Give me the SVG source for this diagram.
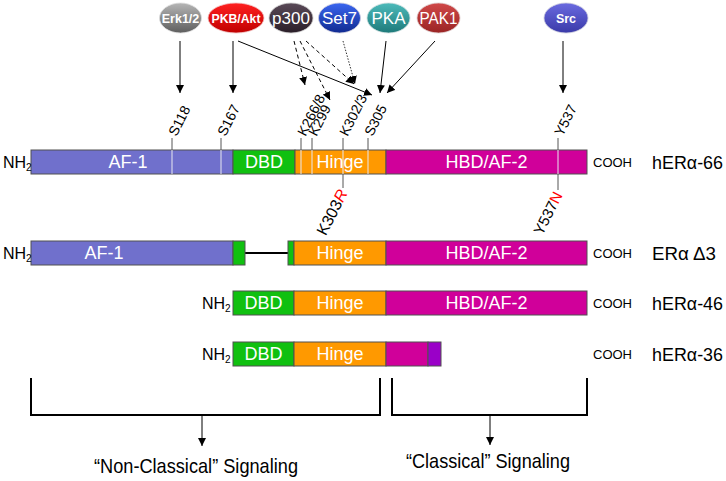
<svg xmlns="http://www.w3.org/2000/svg" width="726" height="481" viewBox="0 0 726 481">
<defs>
<marker id="ah" viewBox="0 0 10 10" refX="10" refY="5" markerWidth="8" markerHeight="8" markerUnits="userSpaceOnUse" orient="auto"><path d="M0,0 L10,5 L0,10 z" fill="#000"/></marker>
<linearGradient id="gErk" x1="0" y1="0" x2="0" y2="1"><stop offset="0" stop-color="#b5b5b5"/><stop offset="1" stop-color="#5e5e5e"/></linearGradient>
<linearGradient id="gAkt" x1="0" y1="0" x2="0" y2="1"><stop offset="0" stop-color="#ff2020"/><stop offset="1" stop-color="#c00000"/></linearGradient>
<linearGradient id="gP300" x1="0" y1="0" x2="0" y2="1"><stop offset="0" stop-color="#5a4a58"/><stop offset="1" stop-color="#2a1e28"/></linearGradient>
<linearGradient id="gSet7" x1="0" y1="0" x2="0" y2="1"><stop offset="0" stop-color="#3a66f0"/><stop offset="1" stop-color="#102a90"/></linearGradient>
<linearGradient id="gPKA" x1="0" y1="0" x2="0" y2="1"><stop offset="0" stop-color="#4cbaba"/><stop offset="1" stop-color="#1e7a7a"/></linearGradient>
<linearGradient id="gPAK" x1="0" y1="0" x2="0" y2="1"><stop offset="0" stop-color="#d04848"/><stop offset="1" stop-color="#9a2424"/></linearGradient>
<linearGradient id="gSrc" x1="0" y1="0" x2="0" y2="1"><stop offset="0" stop-color="#6a6ae0"/><stop offset="1" stop-color="#3a3aa8"/></linearGradient>
</defs>
<style>
text{font-family:"Liberation Sans",Arial,sans-serif;}
.kin{fill:#fff;text-anchor:middle;}
.kb{font-size:12.5px;font-weight:bold;}
.kr{font-size:17px;}
.bar{stroke:#505050;stroke-width:1;}
.af1{fill:#7070cc;}
.dbd{fill:#10c010;}
.hinge{fill:#ff9900;}
.hbd{fill:#d0009a;}
.pur{fill:#9a00c8;}
.bl{fill:#fff;font-size:18px;text-anchor:middle;}
.tick{stroke:#555;stroke-width:1;}
.wt{stroke:#e8e8f0;stroke-width:1;}
.site{font-size:14px;fill:#000;}
.nh{font-size:16px;}
.sub{font-size:10px;}
.cooh{font-size:13px;}
.iso{font-size:19px;}
.arr{stroke:#000;stroke-width:1;fill:none;marker-end:url(#ah);}
.dash{stroke-dasharray:4,3;}
.dot{stroke-dasharray:1.5,1.5;stroke:#333;}
.brk{stroke:#000;stroke-width:2;fill:none;}
.sig{font-size:21px;text-anchor:middle;}
</style>

<g id="kinases">
<g id="erk"><ellipse cx="180.5" cy="18" rx="21" ry="15" fill="url(#gErk)" stroke="#ddd" stroke-width="0.8"/><text class="kin kb" x="180.5" y="22.5">Erk1/2</text></g>
<g id="akt"><ellipse cx="236" cy="18" rx="28" ry="15" fill="url(#gAkt)" stroke="#f0c0c0" stroke-width="0.8"/><text class="kin kb" x="236" y="22.5" textLength="49" lengthAdjust="spacingAndGlyphs">PKB/Akt</text></g>
<g id="p300"><ellipse cx="291" cy="18" rx="22" ry="15" fill="url(#gP300)" stroke="#ccc" stroke-width="0.8"/><text class="kin kr" x="291" y="24">p300</text></g>
<g id="set7"><ellipse cx="339.5" cy="18" rx="21" ry="15" fill="url(#gSet7)" stroke="#ccd" stroke-width="0.8"/><text class="kin kr" x="339.5" y="24">Set7</text></g>
<g id="pka"><ellipse cx="388.5" cy="18" rx="21.5" ry="15" fill="url(#gPKA)" stroke="#cdd" stroke-width="0.8"/><text class="kin kr" x="388.5" y="24">PKA</text></g>
<g id="pak1"><ellipse cx="438.5" cy="18" rx="21.5" ry="15" fill="url(#gPAK)" stroke="#dcc" stroke-width="0.8"/><text class="kin kr" x="438.5" y="24" textLength="38" lengthAdjust="spacingAndGlyphs">PAK1</text></g>
<g id="src"><ellipse cx="566" cy="18" rx="22" ry="15" fill="url(#gSrc)" stroke="#ccd" stroke-width="0.8"/><text class="kin kb" x="566" y="22.5">Src</text></g>
</g>

<g id="connectors">
<line class="arr" x1="180" y1="41" x2="180" y2="93"/>
<line class="arr" x1="233" y1="41" x2="233" y2="93"/>
<line class="arr" x1="238" y1="41" x2="372" y2="95"/>
<line class="arr dash" x1="294" y1="41" x2="305" y2="85"/>
<line class="arr dash" x1="300" y1="41" x2="330" y2="100"/>
<line class="arr dash" x1="306" y1="41" x2="354" y2="84"/>
<line class="arr dot" x1="343" y1="41" x2="355" y2="84"/>
<line class="arr" x1="386" y1="41" x2="380" y2="93"/>
<line class="arr" x1="435" y1="41" x2="387" y2="93"/>
<line class="arr" x1="563" y1="41" x2="563" y2="93"/>
<path class="brk" d="M31,378 V415 H380 V378"/>
<path class="brk" d="M392,378 V415 H587 V378"/>
<line class="arr" x1="202" y1="415" x2="202" y2="446"/>
<line class="arr" x1="490" y1="415" x2="490" y2="445"/>
</g>

<g id="hERa66">
<rect class="bar af1" x="31" y="150" width="202" height="24"/>
<rect class="bar dbd" x="233" y="150" width="62" height="24"/>
<rect class="bar hinge" x="295" y="150" width="91" height="24"/>
<rect class="bar hbd" x="386" y="150" width="201" height="24"/>
<line class="wt" x1="172" y1="150" x2="172" y2="174"/>
<line class="wt" x1="221" y1="150" x2="221" y2="174"/>
<line class="wt" x1="301" y1="150" x2="301" y2="174"/>
<line class="wt" x1="312" y1="150" x2="312" y2="174"/>
<line class="wt" x1="343" y1="150" x2="343" y2="174"/>
<line class="wt" x1="368" y1="150" x2="368" y2="174"/>
<line class="wt" x1="558" y1="150" x2="558" y2="174"/>
<line class="tick" x1="172" y1="138" x2="172" y2="150"/>
<line class="tick" x1="221" y1="138" x2="221" y2="150"/>
<line class="tick" x1="301" y1="138" x2="301" y2="150"/>
<line class="tick" x1="312" y1="138" x2="312" y2="150"/>
<line class="tick" x1="343" y1="138" x2="343" y2="150"/>
<line class="tick" x1="368" y1="138" x2="368" y2="150"/>
<line class="tick" x1="558" y1="138" x2="558" y2="150"/>
<line class="tick" x1="343" y1="174" x2="343" y2="188"/>
<line class="tick" x1="558" y1="174" x2="558" y2="190"/>
<text class="site" transform="translate(176.5,137) rotate(-63)">S118</text>
<text class="site" transform="translate(225.5,137) rotate(-63)">S167</text>
<text class="site" transform="translate(305.5,137) rotate(-63)">K266/8</text>
<text class="site" transform="translate(316.5,137) rotate(-63)">K299</text>
<text class="site" transform="translate(347.5,137) rotate(-63)">K302/3</text>
<text class="site" transform="translate(372.5,137) rotate(-63)">S305</text>
<text class="site" transform="translate(562.5,137) rotate(-63)">Y537</text>
<text class="site" style="font-size:16px;text-anchor:end" transform="translate(348,193) rotate(-63)">K303<tspan fill="#ff0000" font-style="italic">R</tspan></text>
<text class="site" style="font-size:15px;text-anchor:end" transform="translate(563,195) rotate(-63)">Y537<tspan fill="#ff0000">N</tspan></text>
<text class="bl" x="128" y="168">AF-1</text>
<text class="bl" x="264" y="168">DBD</text>
<text class="bl" x="340" y="168">Hinge</text>
<text class="bl" x="486.5" y="168">HBD/AF-2</text>
<text class="nh" x="3" y="168">NH<tspan class="sub" dy="3">2</tspan></text>
<text class="cooh" x="593" y="167">COOH</text>
<text class="iso" x="652" y="169" textLength="71" lengthAdjust="spacingAndGlyphs">hERα-66</text>
</g>

<g id="ERaD3">
<line x1="245" y1="253" x2="288" y2="253" stroke="#000" stroke-width="2"/>
<rect class="bar af1" x="31" y="241" width="202" height="24"/>
<rect class="bar dbd" x="233" y="241" width="12" height="24"/>
<rect class="bar dbd" x="288" y="241" width="6" height="24"/>
<rect class="bar hinge" x="294" y="241" width="92" height="24"/>
<rect class="bar hbd" x="386" y="241" width="201" height="24"/>
<text class="bl" x="104" y="259">AF-1</text>
<text class="bl" x="340" y="259">Hinge</text>
<text class="bl" x="486.5" y="259">HBD/AF-2</text>
<text class="nh" x="3" y="259">NH<tspan class="sub" dy="3">2</tspan></text>
<text class="cooh" x="593" y="258">COOH</text>
<text class="iso" x="652" y="260" textLength="64" lengthAdjust="spacingAndGlyphs">ERα Δ3</text>
</g>

<g id="hERa46">
<rect class="bar dbd" x="233" y="291" width="61" height="24"/>
<rect class="bar hinge" x="294" y="291" width="92" height="24"/>
<rect class="bar hbd" x="386" y="291" width="201" height="24"/>
<text class="bl" x="263.5" y="309">DBD</text>
<text class="bl" x="340" y="309">Hinge</text>
<text class="bl" x="486.5" y="309">HBD/AF-2</text>
<text class="nh" x="202" y="309">NH<tspan class="sub" dy="3">2</tspan></text>
<text class="cooh" x="593" y="308">COOH</text>
<text class="iso" x="652" y="310" textLength="71" lengthAdjust="spacingAndGlyphs">hERα-46</text>
</g>

<g id="hERa36">
<rect class="bar dbd" x="233" y="342" width="61" height="24"/>
<rect class="bar hinge" x="294" y="342" width="92" height="24"/>
<rect class="bar hbd" x="386" y="342" width="42" height="24"/>
<rect class="bar pur" x="428" y="342" width="13" height="24"/>
<text class="bl" x="263.5" y="360">DBD</text>
<text class="bl" x="340" y="360">Hinge</text>
<text class="nh" x="202" y="360">NH<tspan class="sub" dy="3">2</tspan></text>
<text class="cooh" x="593" y="359">COOH</text>
<text class="iso" x="652" y="361" textLength="71" lengthAdjust="spacingAndGlyphs">hERα-36</text>
</g>

<g id="signaling">
<text class="sig" x="196" y="473" textLength="204" lengthAdjust="spacingAndGlyphs">“Non-Classical” Signaling</text>
<text class="sig" x="488" y="468" textLength="164" lengthAdjust="spacingAndGlyphs">“Classical” Signaling</text>
</g>
</svg>
